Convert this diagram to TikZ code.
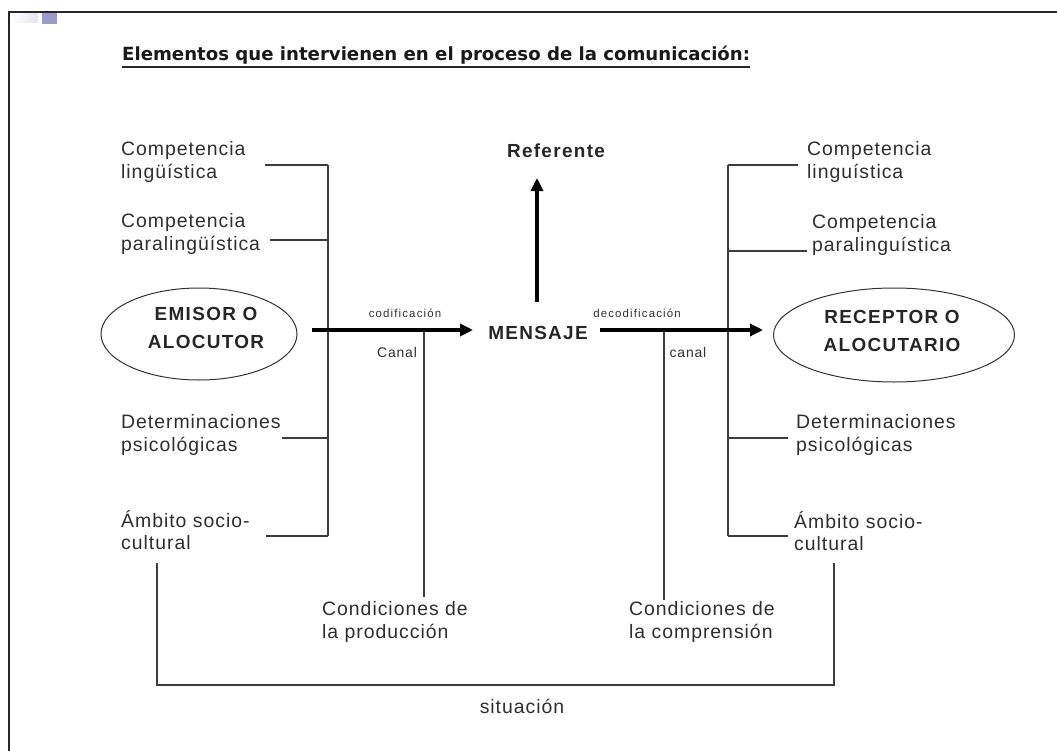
\documentclass[tikz,border=0pt]{standalone}
\usepackage{fontspec}
\setmainfont{Liberation Sans}
\newfontfamily\labfont[LetterSpace=5]{Liberation Sans}
\newfontfamily\bldfont[LetterSpace=7]{Liberation Sans}
\newfontfamily\smlfont[LetterSpace=10]{Liberation Sans}
\newfontfamily\midfont[LetterSpace=6]{Liberation Sans}
\newfontfamily\ttlfont{DejaVu Sans}
\usetikzlibrary{arrows.meta,shapes.geometric}
\definecolor{ink}{HTML}{2E2E2E}
\definecolor{wirec}{HTML}{3C3C3C}
\definecolor{sqc}{HTML}{9A9ACB}
\definecolor{sqlight}{HTML}{E4E4F2}
\tikzset{
  lbl/.style={font=\labfont\fontsize{19.5}{22.5}\selectfont, text=ink, align=left, inner sep=0pt, anchor=west},
  bld/.style={font=\bldfont\bfseries\fontsize{19}{28}\selectfont, text=black!85, align=center, inner sep=0pt},
  sml/.style={font=\smlfont\fontsize{11.5}{13}\selectfont, text=ink, inner sep=0pt},
  mid/.style={font=\midfont\fontsize{14}{16}\selectfont, text=ink, inner sep=0pt},
  wire/.style={draw=wirec, line width=1.3bp},
  bigarrow/.style={draw=black, line width=3.2bp, -{Triangle[length=13bp,width=12bp]}},
  ell/.style={ellipse, draw=black!80, line width=1bp, inner sep=0pt}
}
\begin{document}
\begin{tikzpicture}[x=1bp,y=-1bp]
\useasboundingbox (0,0) rectangle (1057,751);
% frame and corner squares
\fill[left color=white, right color=sqlight] (10,14) rectangle (38,23);
\fill[sqc] (42,13) rectangle (57,24);
\draw[line width=2bp, black!85] (9,751) -- (9,12) -- (1057,12);

% title
\node[font=\ttlfont\bfseries\fontsize{18.2}{22}\selectfont, text=black!90, anchor=base west, inner sep=0pt] (title) at (122,61) {Elementos que intervienen en el proceso de la comunicación:};
\draw[line width=1.5bp, black!85] (title.south west) ++(0,2) coordinate (ul1) -- (ul1 -| title.south east);

% left labels
\node[lbl] (l1) at (121,162) {Competencia\\lingüística};
\node[lbl] (l2) at (121,234) {Competencia\\paralingüística};
\node[lbl] (l3) at (121,435) {Determinaciones\\psicológicas};
\node[lbl] (l4) at (121,530) {Ámbito socio-\\cultural};

% right labels
\node[lbl] (r1) at (807,162) {Competencia\\linguística};
\node[lbl] (r2) at (812,235) {Competencia\\paralinguística};
\node[lbl] (r3) at (796,435) {Determinaciones\\psicológicas};
\node[lbl] (r4) at (794,531) {Ámbito socio-\\cultural};

% bottom labels
\node[lbl] (cp) at (322,622) {Condiciones de\\la producción};
\node[lbl] (cc) at (629,622) {Condiciones de\\la comprensión};
\node[lbl, anchor=center] (sit) at (522,706) {situación};

% ellipses
\node[ell, minimum width=196bp, minimum height=92bp] (emisor) at (199,334) {};
\node[bld] (emisortxt) at (206,328) {EMISOR O\\ALOCUTOR};
\node[ell, minimum width=241bp, minimum height=94bp] (receptor) at (894,335) {};
\node[bld] (receptortxt) at (892,331) {RECEPTOR O\\ALOCUTARIO};

% centre
\node[bld] (mensaje) at (538,333) {MENSAJE};
\node[bld] (referente) at (556,151) {Referente};
\node[sml] (cod) at (405,313) {codificación};
\node[sml] (decod) at (637,313) {decodificación};
\node[mid] (canal1) at (397,353) {Canal};
\node[mid] (canal2) at (688,353) {canal};

% coordinates
\coordinate (lb1) at (328,165);
\coordinate (lb2) at (328,240);
\coordinate (lb3) at (328,438);
\coordinate (lb4) at (328,536);
\coordinate (lt1) at (265,165);
\coordinate (lt2) at (270,240);
\coordinate (lt3) at (282,438);
\coordinate (lt4) at (266,536);
\coordinate (rb1) at (728,165);
\coordinate (rb2) at (728,251);
\coordinate (rb3) at (728,438);
\coordinate (rb4) at (728,536);
\coordinate (rt1) at (798,165);
\coordinate (rt2) at (807,251);
\coordinate (rt3) at (788,438);
\coordinate (rt4) at (788,536);
\coordinate (a1s) at (312,330);
\coordinate (a1e) at (473,330);
\coordinate (a2s) at (600,330);
\coordinate (a2e) at (763,330);
\coordinate (a3s) at (537,302);
\coordinate (a3e) at (537,178);
\coordinate (c1t) at (424,330);
\coordinate (c1b) at (424,597);
\coordinate (c2t) at (664,330);
\coordinate (c2b) at (664,600);
\coordinate (s1) at (157,563);
\coordinate (s2) at (157,685);
\coordinate (s3) at (834,685);
\coordinate (s4) at (834,563);

% left bracket
\draw[wire] (lb1) -- (lb4);
\draw[wire] (lt1) -- (lb1);
\draw[wire] (lt2) -- (lb2);
\draw[wire] (lt3) -- (lb3);
\draw[wire] (lt4) -- (lb4);
% right bracket
\draw[wire] (rb1) -- (rb4);
\draw[wire] (rt1) -- (rb1);
\draw[wire] (rt2) -- (rb2);
\draw[wire] (rt3) -- (rb3);
\draw[wire] (rt4) -- (rb4);
% canal lines
\draw[wire] (c1t) -- (c1b);
\draw[wire] (c2t) -- (c2b);
% situation
\draw[wire] (s1) -- (s2) -- (s3) -- (s4);
% arrows
\draw[bigarrow] (a1s) -- (a1e);
\draw[bigarrow] (a2s) -- (a2e);
\draw[bigarrow] (a3s) -- (a3e);
\end{tikzpicture}
\end{document}
